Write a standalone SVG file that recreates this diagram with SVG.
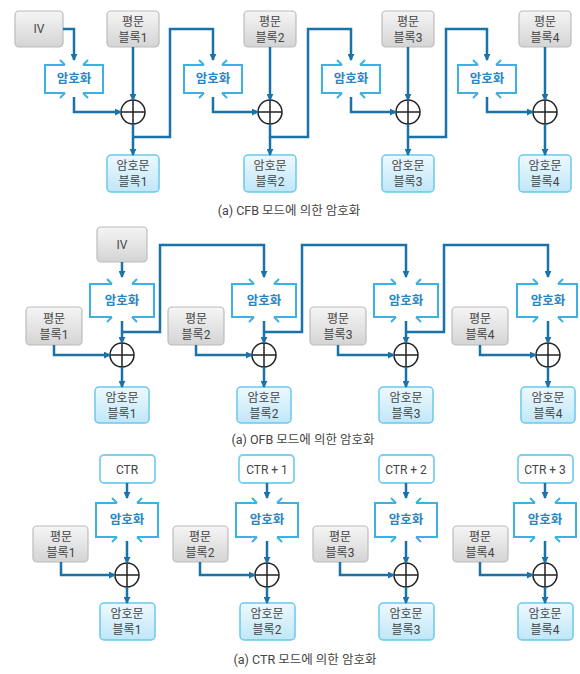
<svg xmlns="http://www.w3.org/2000/svg" width="580" height="674" viewBox="0 0 580 674">
<defs>
  <linearGradient id="gGray" x1="0" y1="0" x2="0" y2="1">
    <stop offset="0" stop-color="#f5f5f5"/>
    <stop offset="1" stop-color="#d4d4d4"/>
  </linearGradient>
  <linearGradient id="gBlue" x1="0" y1="0" x2="0" y2="1">
    <stop offset="0" stop-color="#eef9fe"/>
    <stop offset="1" stop-color="#bfe7f8"/>
  </linearGradient>
  <marker id="ah" viewBox="0 0 8 8" refX="7" refY="4" markerWidth="7" markerHeight="7" markerUnits="userSpaceOnUse" orient="auto">
    <path d="M0,0 L8,4 L0,8 z" fill="#1b72a6"/>
  </marker>
  <style>
    .gray{fill:url(#gGray);stroke:#bcbcbc;stroke-width:1.2}
    .blue{fill:url(#gBlue);stroke:#6cc8ec;stroke-width:1.5}
    .ctr{fill:#ffffff;stroke:#7fd0ef;stroke-width:1.8}
    .enc{fill:none;stroke:#3ab2e6;stroke-width:2}
    .xor{fill:#ffffff;stroke:#222;stroke-width:1.5}
    .con{fill:none;stroke:#1b72a6;stroke-width:2.5}
    .arr{marker-end:url(#ah)}
    text{font-family:Roboto,"Noto Sans CJK KR","Noto Sans",sans-serif;font-size:12px;fill:#444;text-anchor:middle}
    .et{fill:#2a86c2;font-weight:bold;font-size:12.5px}
    .cap{font-size:12.5px;fill:#444}
  </style>
</defs>

<!-- ================= CFB ================= -->
<g id="cfb-iv"><rect class="gray" x="15" y="11" width="48" height="36" rx="4"/><text x="39" y="33">IV</text></g>
<g id="cfb-p1"><rect class="gray" x="107" y="11" width="52" height="36" rx="4"/><text x="133" y="26">평문</text><text x="133" y="42">블록1</text></g>
<g id="cfb-p2"><rect class="gray" x="244" y="11" width="52" height="36" rx="4"/><text x="270" y="26">평문</text><text x="270" y="42">블록2</text></g>
<g id="cfb-p3"><rect class="gray" x="382" y="11" width="52" height="36" rx="4"/><text x="408" y="26">평문</text><text x="408" y="42">블록3</text></g>
<g id="cfb-p4"><rect class="gray" x="519" y="11" width="52" height="36" rx="4"/><text x="545" y="26">평문</text><text x="545" y="42">블록4</text></g>

<g id="cfb-e1"><path class="enc" d="M65,65 H45 V93 H65 M60,60 L65,65 M60,98 L65,93 M83,65 H103 V93 H83 M88,60 L83,65 M88,98 L83,93"/><text class="et" x="74" y="83">암호화</text></g>
<g id="cfb-e2"><path class="enc" d="M204,65 H184 V93 H204 M199,60 L204,65 M199,98 L204,93 M222,65 H242 V93 H222 M227,60 L222,65 M227,98 L222,93"/><text class="et" x="213" y="83">암호화</text></g>
<g id="cfb-e3"><path class="enc" d="M342,65 H322 V93 H342 M337,60 L342,65 M337,98 L342,93 M360,65 H380 V93 H360 M365,60 L360,65 M365,98 L360,93"/><text class="et" x="351" y="83">암호화</text></g>
<g id="cfb-e4"><path class="enc" d="M478,65 H458 V93 H478 M473,60 L478,65 M473,98 L478,93 M496,65 H516 V93 H496 M501,60 L496,65 M501,98 L496,93"/><text class="et" x="487" y="83">암호화</text></g>

<g id="cfb-x1"><circle class="xor" cx="133" cy="112" r="12"/><path d="M121,112 H145 M133,100 V124" stroke="#222" stroke-width="1.5"/></g>
<g id="cfb-x2"><circle class="xor" cx="270" cy="112" r="12"/><path d="M258,112 H282 M270,100 V124" stroke="#222" stroke-width="1.5"/></g>
<g id="cfb-x3"><circle class="xor" cx="408" cy="112" r="12"/><path d="M396,112 H420 M408,100 V124" stroke="#222" stroke-width="1.5"/></g>
<g id="cfb-x4"><circle class="xor" cx="545" cy="112" r="12"/><path d="M533,112 H557 M545,100 V124" stroke="#222" stroke-width="1.5"/></g>

<g id="cfb-c1"><rect class="blue" x="107" y="155" width="52" height="37" rx="4"/><text x="133" y="170">암호문</text><text x="133" y="186">블록1</text></g>
<g id="cfb-c2"><rect class="blue" x="244" y="155" width="52" height="37" rx="4"/><text x="270" y="170">암호문</text><text x="270" y="186">블록2</text></g>
<g id="cfb-c3"><rect class="blue" x="382" y="155" width="52" height="37" rx="4"/><text x="408" y="170">암호문</text><text x="408" y="186">블록3</text></g>
<g id="cfb-c4"><rect class="blue" x="519" y="155" width="52" height="37" rx="4"/><text x="545" y="170">암호문</text><text x="545" y="186">블록4</text></g>

<text class="cap" x="289" y="215">(a) CFB 모드에 의한 암호화</text>

<!-- ================= OFB ================= -->
<g id="ofb-iv"><rect class="gray" x="97" y="227" width="50" height="35" rx="4"/><text x="122" y="249">IV</text></g>

<g id="ofb-e1"><path class="enc" d="M112,284 H90 V317 H112 M107,279 L112,284 M107,322 L112,317 M132,284 H154 V317 H132 M137,279 L132,284 M137,322 L132,317"/><text class="et" x="122" y="305">암호화</text></g>
<g id="ofb-e2"><path class="enc" d="M254,284 H232 V317 H254 M249,279 L254,284 M249,322 L254,317 M274,284 H296 V317 H274 M279,279 L274,284 M279,322 L274,317"/><text class="et" x="264" y="305">암호화</text></g>
<g id="ofb-e3"><path class="enc" d="M396,284 H374 V317 H396 M391,279 L396,284 M391,322 L396,317 M416,284 H438 V317 H416 M421,279 L416,284 M421,322 L416,317"/><text class="et" x="406" y="305">암호화</text></g>
<g id="ofb-e4"><path class="enc" d="M538,284 H517 V317 H538 M533,279 L538,284 M533,322 L538,317 M558,284 H577 V317 H558 M563,279 L558,284 M563,322 L558,317"/><text class="et" x="548" y="305">암호화</text></g>

<g id="ofb-p1"><rect class="gray" x="26" y="307" width="56" height="38" rx="4"/><text x="54" y="323">평문</text><text x="54" y="339">블록1</text></g>
<g id="ofb-p2"><rect class="gray" x="168" y="307" width="56" height="38" rx="4"/><text x="196" y="323">평문</text><text x="196" y="339">블록2</text></g>
<g id="ofb-p3"><rect class="gray" x="310" y="307" width="56" height="38" rx="4"/><text x="338" y="323">평문</text><text x="338" y="339">블록3</text></g>
<g id="ofb-p4"><rect class="gray" x="452" y="307" width="56" height="38" rx="4"/><text x="480" y="323">평문</text><text x="480" y="339">블록4</text></g>

<g id="ofb-x1"><circle class="xor" cx="122" cy="355" r="12"/><path d="M110,355 H134 M122,343 V367" stroke="#222" stroke-width="1.5"/></g>
<g id="ofb-x2"><circle class="xor" cx="264" cy="355" r="12"/><path d="M252,355 H276 M264,343 V367" stroke="#222" stroke-width="1.5"/></g>
<g id="ofb-x3"><circle class="xor" cx="406" cy="355" r="12"/><path d="M394,355 H418 M406,343 V367" stroke="#222" stroke-width="1.5"/></g>
<g id="ofb-x4"><circle class="xor" cx="548" cy="355" r="12"/><path d="M536,355 H560 M548,343 V367" stroke="#222" stroke-width="1.5"/></g>

<g id="ofb-c1"><rect class="blue" x="95" y="387" width="54" height="36" rx="4"/><text x="122" y="402">암호문</text><text x="122" y="418">블록1</text></g>
<g id="ofb-c2"><rect class="blue" x="237" y="387" width="54" height="36" rx="4"/><text x="264" y="402">암호문</text><text x="264" y="418">블록2</text></g>
<g id="ofb-c3"><rect class="blue" x="379" y="387" width="54" height="36" rx="4"/><text x="406" y="402">암호문</text><text x="406" y="418">블록3</text></g>
<g id="ofb-c4"><rect class="blue" x="521" y="387" width="54" height="36" rx="4"/><text x="548" y="402">암호문</text><text x="548" y="418">블록4</text></g>

<text class="cap" x="303" y="444">(a) OFB 모드에 의한 암호화</text>

<!-- ================= CTR ================= -->
<g id="ctr-k1"><rect class="ctr" x="100" y="455" width="55" height="28" rx="4"/><text x="127" y="474">CTR</text></g>
<g id="ctr-k2"><rect class="ctr" x="239" y="455" width="55" height="28" rx="4"/><text x="267" y="474">CTR + 1</text></g>
<g id="ctr-k3"><rect class="ctr" x="379" y="455" width="55" height="28" rx="4"/><text x="406" y="474">CTR + 2</text></g>
<g id="ctr-k4"><rect class="ctr" x="518" y="455" width="55" height="28" rx="4"/><text x="545" y="474">CTR + 3</text></g>

<g id="ctr-e1"><path class="enc" d="M117,503 H96 V537 H117 M112,498 L117,503 M112,542 L117,537 M137,503 H158 V537 H137 M142,498 L137,503 M142,542 L137,537"/><text class="et" x="127" y="524">암호화</text></g>
<g id="ctr-e2"><path class="enc" d="M257,503 H236 V537 H257 M252,498 L257,503 M252,542 L257,537 M277,503 H298 V537 H277 M282,498 L277,503 M282,542 L277,537"/><text class="et" x="267" y="524">암호화</text></g>
<g id="ctr-e3"><path class="enc" d="M396,503 H375 V537 H396 M391,498 L396,503 M391,542 L396,537 M416,503 H437 V537 H416 M421,498 L416,503 M421,542 L416,537"/><text class="et" x="406" y="524">암호화</text></g>
<g id="ctr-e4"><path class="enc" d="M535,503 H514 V537 H535 M530,498 L535,503 M530,542 L535,537 M555,503 H576 V537 H555 M560,498 L555,503 M560,542 L555,537"/><text class="et" x="545" y="524">암호화</text></g>

<g id="ctr-p1"><rect class="gray" x="33" y="526" width="55" height="36" rx="4"/><text x="61" y="541">평문</text><text x="61" y="557">블록1</text></g>
<g id="ctr-p2"><rect class="gray" x="173" y="526" width="55" height="36" rx="4"/><text x="200" y="541">평문</text><text x="200" y="557">블록2</text></g>
<g id="ctr-p3"><rect class="gray" x="313" y="526" width="55" height="36" rx="4"/><text x="340" y="541">평문</text><text x="340" y="557">블록3</text></g>
<g id="ctr-p4"><rect class="gray" x="453" y="526" width="55" height="36" rx="4"/><text x="480" y="541">평문</text><text x="480" y="557">블록4</text></g>

<g id="ctr-x1"><circle class="xor" cx="127" cy="575" r="12"/><path d="M115,575 H139 M127,563 V587" stroke="#222" stroke-width="1.5"/></g>
<g id="ctr-x2"><circle class="xor" cx="267" cy="575" r="12"/><path d="M255,575 H279 M267,563 V587" stroke="#222" stroke-width="1.5"/></g>
<g id="ctr-x3"><circle class="xor" cx="406" cy="575" r="12"/><path d="M394,575 H418 M406,563 V587" stroke="#222" stroke-width="1.5"/></g>
<g id="ctr-x4"><circle class="xor" cx="545" cy="575" r="12"/><path d="M533,575 H557 M545,563 V587" stroke="#222" stroke-width="1.5"/></g>

<g id="ctr-c1"><rect class="blue" x="100" y="603" width="55" height="37" rx="4"/><text x="127" y="618">암호문</text><text x="127" y="634">블록1</text></g>
<g id="ctr-c2"><rect class="blue" x="240" y="603" width="55" height="37" rx="4"/><text x="267" y="618">암호문</text><text x="267" y="634">블록2</text></g>
<g id="ctr-c3"><rect class="blue" x="379" y="603" width="55" height="37" rx="4"/><text x="406" y="618">암호문</text><text x="406" y="634">블록3</text></g>
<g id="ctr-c4"><rect class="blue" x="518" y="603" width="55" height="37" rx="4"/><text x="545" y="618">암호문</text><text x="545" y="634">블록4</text></g>

<text class="cap" x="305" y="664">(a) CTR 모드에 의한 암호화</text>

<!-- ================= connectors ================= -->
<g id="connectors">
  <!-- CFB -->
  <path class="con arr" d="M63,29 H74 V60"/>
  <path class="con arr" d="M133,47 V100"/>
  <path class="con arr" d="M270,47 V100"/>
  <path class="con arr" d="M408,47 V100"/>
  <path class="con arr" d="M545,47 V100"/>
  <path class="con arr" d="M74,97 V112 H121"/>
  <path class="con arr" d="M213,97 V112 H258"/>
  <path class="con arr" d="M351,97 V112 H396"/>
  <path class="con arr" d="M487,97 V112 H533"/>
  <path class="con arr" d="M133,124 V155"/>
  <path class="con arr" d="M270,124 V155"/>
  <path class="con arr" d="M408,124 V155"/>
  <path class="con arr" d="M545,124 V155"/>
  <path class="con arr" d="M133,137 H170 V29 H213 V60"/>
  <path class="con arr" d="M270,137 H308 V29 H351 V60"/>
  <path class="con arr" d="M408,137 H446 V29 H487 V60"/>
  <!-- OFB -->
  <path class="con arr" d="M122,262 V277"/>
  <path class="con arr" d="M122,321 V343"/>
  <path class="con arr" d="M264,321 V343"/>
  <path class="con arr" d="M406,321 V343"/>
  <path class="con arr" d="M548,321 V343"/>
  <path class="con arr" d="M122,332 H160 V245 H264 V277"/>
  <path class="con arr" d="M264,332 H302 V245 H406 V277"/>
  <path class="con arr" d="M406,332 H444 V245 H548 V277"/>
  <path class="con arr" d="M54,345 V355 H110"/>
  <path class="con arr" d="M196,345 V355 H252"/>
  <path class="con arr" d="M338,345 V355 H394"/>
  <path class="con arr" d="M480,345 V355 H536"/>
  <path class="con arr" d="M122,367 V387"/>
  <path class="con arr" d="M264,367 V387"/>
  <path class="con arr" d="M406,367 V387"/>
  <path class="con arr" d="M548,367 V387"/>
  <!-- CTR -->
  <path class="con arr" d="M127,483 V498"/>
  <path class="con arr" d="M267,483 V498"/>
  <path class="con arr" d="M406,483 V498"/>
  <path class="con arr" d="M545,483 V498"/>
  <path class="con arr" d="M127,541 V563"/>
  <path class="con arr" d="M267,541 V563"/>
  <path class="con arr" d="M406,541 V563"/>
  <path class="con arr" d="M545,541 V563"/>
  <path class="con arr" d="M61,562 V575 H115"/>
  <path class="con arr" d="M200,562 V575 H255"/>
  <path class="con arr" d="M340,562 V575 H394"/>
  <path class="con arr" d="M480,562 V575 H533"/>
  <path class="con arr" d="M127,587 V603"/>
  <path class="con arr" d="M267,587 V603"/>
  <path class="con arr" d="M406,587 V603"/>
  <path class="con arr" d="M545,587 V603"/>
</g>
</svg>
